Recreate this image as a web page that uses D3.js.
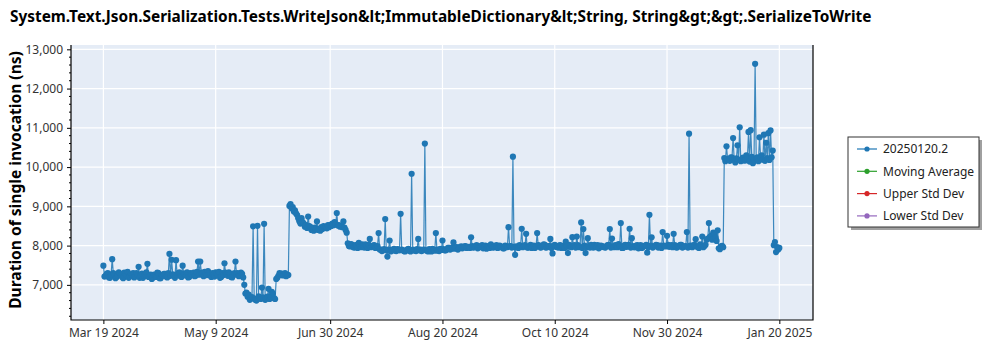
<!DOCTYPE html>
<html><head><meta charset="utf-8">
<script src="https://cdn.jsdelivr.net/npm/d3@7"></script>
<style>body{margin:0;background:#fff} svg{display:block}</style>
</head><body><svg id="c" width="1000" height="350"></svg>
<script>
const titleText = "System.Text.Json.Serialization.Tests.WriteJson&lt;ImmutableDictionary&lt;String, String&gt;&gt;.SerializeToWrite";
const yAxisTitle = "Duration of single invocation (ns)";
const seriesName = "20250120.2";
const startDate = "2024-03-19"; // first run of each day from this date (00:00)
const values = [
  // Mar 19-31
  7490,7230,7300,7180,7655,7260,7200,7320,7250,7170,7280,7330,7220,
  // Apr
  7260,7190,7300,7460,7240,7180,7270,7535,7210,7150,7260,7200,7300,7170,7230,7280,7190,7790,7640,7250,7630,7300,7220,7490,7280,7320,7200,7260,7310,7240,
  // May
  7595,7595,7280,7330,7250,7300,7200,7270,7320,7250,7180,7300,7550,7270,7320,7200,7260,7595,7300,7230,7280,7000,6800,6750,6650,8490,6620,8505,6680,6930,8555,
  // Jun
  6650,6900,6700,6780,6640,7180,7300,7290,7260,7220,7250,9060,8980,8900,8780,8620,8700,8560,8520,8740,8480,8420,8460,8615,8430,8470,8500,8480,8520,8530,
  // Jul
  8560,8600,8830,8520,8500,8615,8400,8060,7980,8020,7950,8000,8070,7960,7990,8030,7940,8170,7980,8010,7950,8320,7900,7880,8675,7720,8130,7880,7920,7860,7900,
  // Aug
  8810,7880,7850,7900,7870,9830,7890,7860,8170,7900,7880,10600,7870,7910,7850,7890,8320,7870,7920,8130,7880,7900,7940,7920,8080,7950,7900,7960,7930,7980,7940,
  // Sep
  7970,8210,7950,7990,7930,7980,8010,7960,7920,7990,8030,7950,7980,7940,8000,7960,7930,7980,8470,7990,10265,7765,7960,8010,8430,7990,8300,7950,8020,7980,
  // Oct
  7940,8320,8000,7960,8030,7950,7990,8170,7800,8020,7970,8000,7940,7990,8100,7810,7980,8215,8010,8230,7960,8590,8420,7810,8190,7950,7990,8020,7960,7930,8000,
  // Nov
  7970,7950,8010,8420,8180,7960,7990,8040,8575,7940,8020,7980,8430,8190,7960,8000,7930,8010,7960,7990,7820,8785,8210,7980,8020,7950,8000,8345,7990,8250,
  // Dec
  7970,8010,8300,7960,7990,8020,7950,7980,8345,10850,7970,8010,8165,7960,8030,8230,7990,8150,8575,8250,8330,8200,8390,7910,7995,10230,10530,10180,10250,10740,10120,
  // Jan 1-20
  10555,11015,10200,10170,10300,10895,10940,10100,12630,10250,10760,10300,10825,10620,10865,10935,10420,8090,7960,7940
];
// second run of each day (12:00), Mar 19 2025 .. Jan 19 2025
const values2 = [
  // Mar 19-31
  7210,7280,7190,7260,7300,7170,7240,7280,7200,7310,7230,7180,7270,
  // Apr
  7300,7220,7250,7180,7290,7230,7320,7200,7260,7190,7240,7310,7170,7250,7280,7210,7300,7230,7270,7180,7260,7320,7200,7290,7240,7190,7300,7250,7220,7330,
  // May
  7260,7310,7220,7290,7350,7240,7300,7210,7280,7330,7200,7250,7310,7230,7280,7190,7300,7260,7220,7310,7190,6780,6700,6620,6690,6650,6600,6710,6640,6680,6620,
  // Jun
  6700,6640,6820,6660,7150,7230,7270,7240,7300,7260,9010,8950,8870,8820,8700,8560,8600,8480,8450,8500,8400,8380,8420,8400,8380,8420,8450,8440,8470,8500,
  // Jul
  8520,8540,8510,8480,8470,8460,8330,7990,8040,7960,8010,7940,7990,8030,7950,7990,8020,7960,8000,7940,7990,7900,7860,7910,7880,7900,7850,7900,7870,7910,7880,
  // Aug
  7900,7860,7880,7920,7850,7890,7870,7910,7880,7860,7900,7880,7850,7890,7920,7870,7900,7860,7890,7910,7880,7940,7900,7950,7920,7960,7930,7980,7950,7990,7960,
  // Sep
  7940,7990,7960,8010,7950,7980,7930,8000,7970,7940,7990,7960,8010,7950,7980,7930,8000,7960,7990,7950,7970,7980,7940,7990,7960,8010,7950,7980,7940,8000,
  // Oct
  7970,8010,7950,7990,8020,7960,7990,7940,8000,7970,7950,8010,7980,7940,7990,8020,7960,7990,7950,8010,7970,7940,8000,7960,7990,8020,7950,7980,8010,7960,7990,
  // Nov
  7960,7990,8020,7950,7980,8010,7960,7990,7940,8000,7970,8020,7950,7990,7960,8010,7980,7940,7990,8020,7960,8000,7950,7990,8010,7970,7940,8000,7980,8020,
  // Dec
  7990,7960,8010,7950,7980,8020,7970,7990,7950,8000,7960,8010,7980,7940,8000,7960,8020,8180,8220,8150,8280,8120,7930,7980,7960,10150,10210,10160,10240,10180,10220,
  // Jan 1-19
  10190,10150,10240,10170,10210,10140,10260,10180,10220,10150,10240,10190,10160,10230,10180,10250,8010,7835,7900
];
const xTickLabels = ["Mar 19 2024","May 9 2024","Jun 30 2024","Aug 20 2024","Oct 10 2024","Nov 30 2024","Jan 20 2025"];
const yTicks = [7000,8000,9000,10000,11000,12000,13000];
const xDomain = ["2024-03-04T07:00","2025-02-04T07:00"];
const yDomain = [6105, 13110];
const legendLabels = [seriesName,"Moving Average","Upper Std Dev","Lower Std Dev"];
const legendColors = ["#1f77b4","#2ca02c","#d62728","#9467bd"];

const FONT = "'Noto Sans', 'Open Sans', sans-serif";
const svg = d3.select("#c");
const m = {l:71, r:813, t:45, b:320};

const parseDay = d3.utcParse("%Y-%m-%d");
const parseDT = d3.utcParse("%Y-%m-%dT%H:%M");
const parseTick = d3.utcParse("%b %e %Y");
const t0 = parseDay(startDate);
const data = [];
values.forEach((v,i)=>{
  const day = d3.utcDay.offset(t0,i);
  data.push({date:day, value:v});
  if (i < values2.length) data.push({date:d3.utcHour.offset(day,12), value:values2[i]});
});

const x = d3.scaleUtc().domain(xDomain.map(parseDT)).range([m.l,m.r]);
const y = d3.scaleLinear().domain(yDomain).range([m.b,m.t]);

svg.append("rect").attr("x",m.l).attr("y",m.t).attr("width",m.r-m.l).attr("height",m.b-m.t).attr("fill","#e5ecf6");

const xTickDates = xTickLabels.map(parseTick);
svg.append("g").selectAll("line").data(yTicks).join("line")
  .attr("x1",m.l).attr("x2",m.r).attr("y1",d=>y(d)).attr("y2",d=>y(d))
  .attr("stroke","#fff").attr("stroke-width",1.2);
svg.append("g").selectAll("line").data(xTickDates).join("line")
  .attr("x1",d=>x(d)).attr("x2",d=>x(d)).attr("y1",m.t).attr("y2",m.b)
  .attr("stroke","#fff").attr("stroke-width",1.2);

svg.append("clipPath").attr("id","pc").append("rect").attr("x",m.l).attr("y",m.t).attr("width",m.r-m.l).attr("height",m.b-m.t);
const g = svg.append("g").attr("clip-path","url(#pc)");
g.append("path").datum(data)
  .attr("d", d3.line().x(d=>x(d.date)).y(d=>y(d.value)))
  .attr("fill","none").attr("stroke","#1f77b4").attr("stroke-width",1.2).attr("stroke-opacity",0.85);
g.selectAll("circle").data(data).join("circle")
  .attr("cx",d=>x(d.date)).attr("cy",d=>y(d.value)).attr("r",3.1).attr("fill","#1f77b4");

const yAxis = d3.axisLeft(y).tickValues(yTicks).tickFormat(d3.format(",")).tickSize(4).tickPadding(4);
const yg = svg.append("g").attr("transform",`translate(${m.l},0)`).call(yAxis);
const minor = d3.range(6200, 13100, 200).filter(v=>v%1000!==0);
svg.append("g").selectAll("line").data(minor).join("line")
  .attr("x1",m.l-2).attr("x2",m.l).attr("y1",d=>y(d)).attr("y2",d=>y(d)).attr("stroke","#000");
const xAxis = d3.axisBottom(x).tickValues(xTickDates).tickFormat((d,i)=>xTickLabels[i]).tickSize(4).tickPadding(4);
const xg = svg.append("g").attr("transform",`translate(0,${m.b})`).call(xAxis);
[yg,xg].forEach(a=>{
  a.select(".domain").remove();
  a.selectAll(".tick line").attr("stroke","#000");
  a.selectAll(".tick text").attr("fill","#333").style("font-family",FONT).style("font-size","12px");
});
svg.append("path").attr("d",`M${m.l},${m.t}V${m.b}H${m.r}V${m.t}`).attr("fill","none").attr("stroke","#000").attr("stroke-width",1.2);

const tt = svg.append("text").attr("x",10).attr("y",22).text(titleText)
  .style("font-family",FONT).style("font-weight","bold").style("font-size","16px").attr("fill","#000");
{ const w = tt.node().getComputedTextLength(); tt.style("font-size",(16*862/w).toFixed(2)+"px"); }

const yt = svg.append("text").attr("transform",`translate(21,180) rotate(-90)`).attr("text-anchor","middle").text(yAxisTitle)
  .style("font-family",FONT).style("font-weight","bold").style("font-size","17px").attr("fill","#000");
{ const w = yt.node().getComputedTextLength(); yt.style("font-size",(17*258/w).toFixed(2)+"px"); }

const L = {x:848,y:137,w:131,h:90};
svg.append("rect").attr("x",L.x+3).attr("y",L.y+3).attr("width",L.w).attr("height",L.h).attr("fill","#a0a0a0");
svg.append("rect").attr("x",L.x).attr("y",L.y).attr("width",L.w).attr("height",L.h).attr("fill","#fff").attr("stroke","#333").attr("stroke-width",1);
const li = svg.append("g").selectAll("g").data(legendLabels).join("g")
  .attr("transform",(d,i)=>`translate(${L.x},${L.y+12+i*22.3})`);
li.append("line").attr("x1",9).attr("x2",29).attr("stroke",(d,i)=>legendColors[i]).attr("stroke-width",1.2);
li.append("circle").attr("cx",19).attr("r",2.6).attr("fill",(d,i)=>legendColors[i]);
li.append("text").attr("x",35).attr("dy","0.35em").text(d=>d)
  .style("font-family",FONT).style("font-size","12px").attr("fill","#222");
</script></body></html>
